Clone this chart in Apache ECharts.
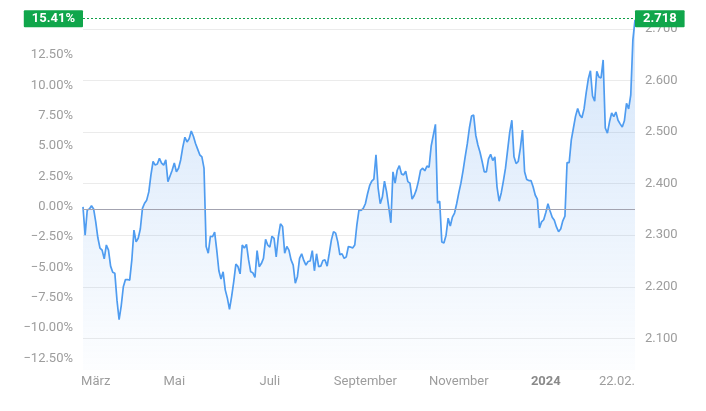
<!DOCTYPE html>
<html><head><meta charset="utf-8">
<script src="https://cdn.jsdelivr.net/npm/echarts@6/dist/echarts.min.js"></script>
<style>html,body{margin:0;padding:0;background:#fff}#c{width:706px;height:411px}</style>
</head><body><div id="c"></div>
<script>
const prices = [
2.355,2.300,2.349,2.351,2.357,2.351,2.326,2.295,2.275,2.271,
2.254,2.281,2.271,2.240,2.228,2.226,2.174,2.136,2.163,2.200,
2.214,2.214,2.213,2.252,2.310,2.287,2.294,2.312,2.352,2.362,
2.368,2.384,2.417,2.443,2.436,2.438,2.449,2.440,2.436,2.446,
2.404,2.415,2.426,2.440,2.423,2.430,2.446,2.471,2.490,2.481,
2.487,2.502,2.492,2.478,2.467,2.456,2.452,2.430,2.278,2.265,
2.298,2.297,2.306,2.271,2.231,2.215,2.229,2.194,2.178,2.156,
2.181,2.210,2.244,2.239,2.225,2.281,2.275,2.282,2.252,2.229,
2.227,2.218,2.270,2.239,2.245,2.255,2.292,2.281,2.277,2.298,
2.294,2.258,2.297,2.322,2.317,2.265,2.278,2.271,2.252,2.242,
2.207,2.220,2.255,2.264,2.251,2.242,2.249,2.250,2.270,2.231,
2.264,2.239,2.240,2.251,2.252,2.240,2.265,2.291,2.307,2.304,
2.287,2.262,2.264,2.255,2.258,2.278,2.277,2.275,2.281,2.320,
2.349,2.348,2.352,2.361,2.380,2.396,2.405,2.409,2.456,2.392,
2.361,2.374,2.405,2.384,2.355,2.324,2.423,2.401,2.426,2.435,
2.419,2.417,2.424,2.404,2.401,2.370,2.377,2.388,2.405,2.426,
2.430,2.425,2.434,2.432,2.473,2.494,2.515,2.362,2.366,2.287,
2.285,2.300,2.333,2.318,2.335,2.343,2.361,2.382,2.401,2.425,
2.452,2.477,2.508,2.531,2.533,2.494,2.475,2.461,2.443,2.423,
2.423,2.448,2.457,2.445,2.452,2.394,2.366,2.382,2.405,2.430,
2.465,2.500,2.523,2.452,2.439,2.443,2.469,2.504,2.423,2.408,
2.406,2.406,2.394,2.378,2.370,2.314,2.326,2.330,2.344,2.361,
2.347,2.335,2.329,2.316,2.307,2.312,2.328,2.337,2.441,2.441,
2.485,2.508,2.531,2.546,2.533,2.528,2.545,2.576,2.603,2.619,
2.570,2.560,2.618,2.607,2.605,2.640,2.508,2.498,2.520,2.537,
2.530,2.539,2.523,2.516,2.510,2.522,2.556,2.545,2.572,2.679,
2.718
];
const monthLabels = ['März','Mai','Juli','September','November','2024','22.02.'];
const monthLabelIndex = [6,43,88,133,177,218,260];
const pctTicks = [-12.5,-10,-7.5,-5,-2.5,0,2.5,5,7.5,10,12.5];
const priceTicks = [2.1,2.2,2.3,2.4,2.5,2.6,2.7];
const priceMin = 2.0385, priceMax = 2.7369;

const base = prices[0];
const last = prices[prices.length - 1];
const categories = prices.map((_, i) => String(i));
const pct = v => (v / base - 1) * 100;
const fmtPct = v => (v < -0.0001 ? '\u2212' : '') + Math.abs(v).toFixed(2) + '%';

const chart = echarts.init(document.getElementById('c'), null, {renderer: 'canvas'});
const labelFont = {fontFamily: 'Roboto', fontSize: 13, color: '#9d9d9d'};
const badge = {
  show: true, color: '#fff', fontFamily: 'Roboto', fontWeight: 'bold', fontSize: 13,
  backgroundColor: '#10a64b', padding: [1, 8, 1, 8], lineHeight: 15, borderRadius: 1, distance: 0
};
chart.setOption({
  animation: false,
  grid: {left: 83, right: 71, top: 10, bottom: 41},
  xAxis: {
    type: 'category', data: categories, boundaryGap: false,
    axisLine: {show: false}, axisTick: {show: false}, splitLine: {show: false},
    axisLabel: Object.assign({}, labelFont, {
      margin: 5,
      interval: idx => monthLabelIndex.indexOf(idx) >= 0,
      alignMaxLabel: 'right',
      formatter: (val, idx) => {
        const k = monthLabelIndex.indexOf(Number(val));
        if (k < 0) return '';
        const t = monthLabels[k];
        return /^\d{4}$/.test(t) ? '{b|' + t + '}' : t;
      },
      rich: {b: {fontFamily: 'Roboto', fontSize: 13, fontWeight: 'bold', color: '#8a8a8a'}}
    })
  },
  yAxis: [{
    type: 'value', position: 'left', min: pct(priceMin), max: pct(priceMax),
    axisLine: {show: false}, axisTick: {show: false}, splitLine: {show: false},
    axisLabel: Object.assign({}, labelFont, {margin: 10, customValues: pctTicks, formatter: v => fmtPct(v)})
  }, {
    type: 'value', position: 'right', min: priceMin, max: priceMax, splitNumber: 7,
    axisLine: {show: false}, axisTick: {show: false},
    splitLine: {show: true, showMinLine: false, showMaxLine: false, lineStyle: {color: '#ebebeb', width: 1}},
    axisLabel: Object.assign({}, labelFont, {margin: 10, customValues: priceTicks, formatter: v => v.toFixed(3)})
  }],
  series: [{
    type: 'line', yAxisIndex: 1, data: prices, symbol: 'none', smooth: false,
    lineStyle: {color: '#4f9cf0', width: 1.7},
    areaStyle: {color: new echarts.graphic.LinearGradient(0, 0, 0, 1, [
      {offset: 0, color: 'rgba(70,145,235,0.34)'},
      {offset: 1, color: 'rgba(70,145,235,0.02)'}
    ])},
    markLine: {
      silent: true, symbol: 'none', animation: false,
      data: [
        {yAxis: base, lineStyle: {color: '#a3a3b0', width: 1, type: 'solid'}, label: {show: false}},
        {yAxis: last, lineStyle: {color: '#0f9f47', width: 1, type: [2, 2]},
         label: Object.assign({}, badge, {position: 'start', formatter: () => fmtPct(pct(last))})},
        {yAxis: last, lineStyle: {color: '#0f9f47', width: 1, type: [2, 2]},
         label: Object.assign({}, badge, {position: 'end', formatter: () => last.toFixed(3)})}
      ]
    }
  }]
});
</script></body></html>
